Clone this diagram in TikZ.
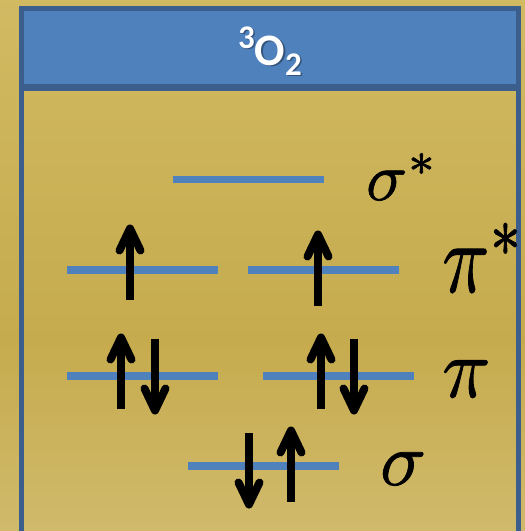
\documentclass[tikz,border=0pt]{standalone}
\usepackage{graphicx}
\usepackage{fontspec}
\newfontfamily\hdrfont{Carlito}
\definecolor{gtop}{RGB}{217,197,114}
\definecolor{gmid}{RGB}{198,171,78}
\definecolor{gbot}{RGB}{221,206,147}
\definecolor{hdrblue}{RGB}{79,129,189}
\definecolor{frameblue}{RGB}{59,94,140}
\definecolor{levelblue}{RGB}{79,129,189}
\pgfdeclareverticalshading{goldbg}{100bp}{color(0bp)=(gbot); color(43bp)=(gmid); color(100bp)=(gtop)}
\tikzset{
  frame/.style={draw=frameblue, line width=5pt},
  level/.style={draw=levelblue, line width=7.5pt},
  spin/.style={draw=black, line width=8pt, line cap=butt},
  spinhead/.style={draw=black, line width=8pt, line cap=round, line join=round},
  spinup/.pic={\draw[spin] (0,0) -- (0,71.5); \draw[spinhead] (-10.5,22) -- (0,0) -- (10.5,22);},
  spindown/.pic={\draw[spin] (0,0) -- (0,-71.5); \draw[spinhead] (-10.5,-22) -- (0,0) -- (10.5,-22);},
  orblabel/.style={inner sep=0pt, anchor=base west},
  hdrtext/.style={inner sep=0pt, anchor=base, font=\hdrfont\bfseries\fontsize{45}{50}\selectfont}
}
\newcommand\hdrcontent{\raisebox{17pt}{\fontsize{33}{33}\selectfont 3}O\raisebox{-10pt}{\fontsize{33}{33}\selectfont 2}}
\newcommand\heavy[1]{\special{pdf:literal direct 2 Tr 0.1 w 1 j}#1\special{pdf:literal direct 0 Tr}}
\begin{document}
\begin{tikzpicture}[x=1pt,y=-1pt]
\useasboundingbox (0,0) rectangle (525,531);
\clip (0,0) rectangle (525,531);
\shade[shading=goldbg] (0,0) rectangle (525,531);
% body and header
\draw[frame] (21.5,88) rectangle (518.5,600);
\draw[frame, fill=hdrblue] (21.5,8.5) rectangle (518.5,86);
\node[hdrtext, text=black, opacity=0.35] (shadow) at (271.5,66.5) {\hdrcontent};
\node[hdrtext, text=white] (title) at (270,65) {\hdrcontent};
% levels
\draw[level] (173,179.5) -- (324,179.5);
\draw[level] (67,270) -- (218,270);
\draw[level] (248,270) -- (399,270);
\draw[level] (67,376) -- (218,376);
\draw[level] (263,376) -- (414,376);
\draw[level] (188,466) -- (339,466);
% spins
\pic at (130,228.5) {spinup};
\pic at (318,234.5) {spinup};
\pic at (121,337.5) {spinup};
\pic at (155,410.5) {spindown};
\pic at (321,337.5) {spinup};
\pic at (354,410.5) {spindown};
\pic at (249,504.5) {spindown};
\pic at (291,430.5) {spinup};
% labels
\node[orblabel] (ssl) at (366,200) {\scalebox{6.8}{\heavy{$\sigma^*$}}};
\node[orblabel] (psl) at (442,292) {\scalebox{7.8}[10]{\heavy{$\pi^*$}}};
\node[orblabel] (pl) at (442,397) {\scalebox{8}[8.5]{\heavy{$\pi$}}};
\node[orblabel] (sl) at (380,485) {\scalebox{7.6}{\heavy{$\sigma$}}};
\end{tikzpicture}
\end{document}
